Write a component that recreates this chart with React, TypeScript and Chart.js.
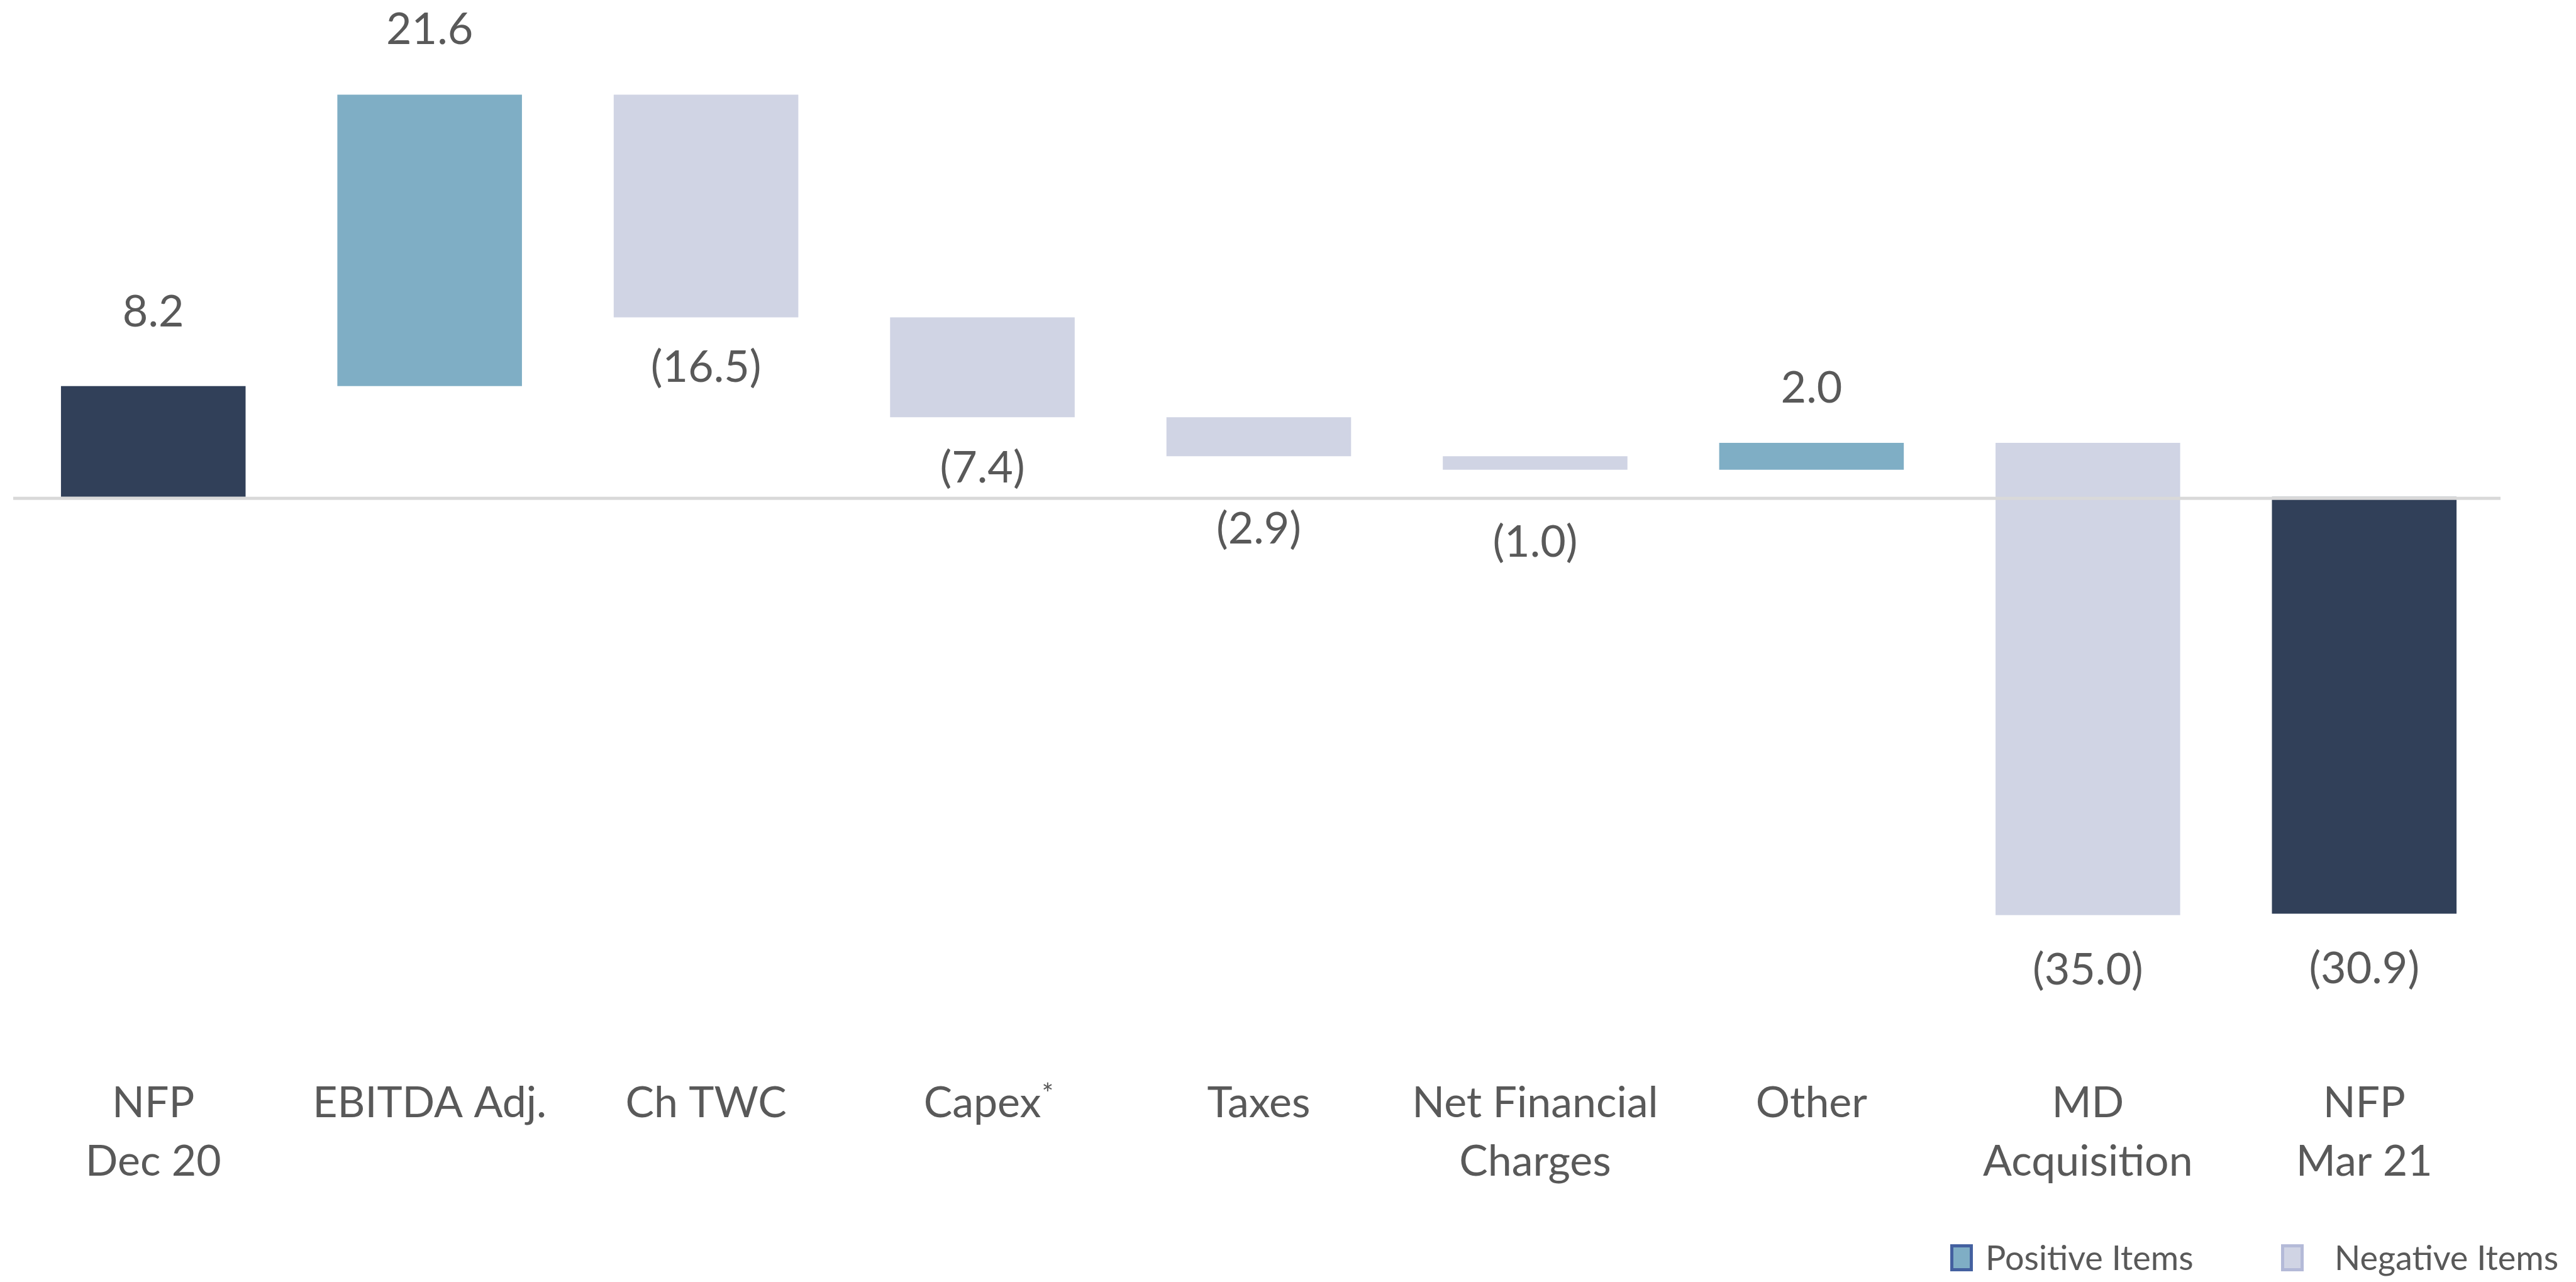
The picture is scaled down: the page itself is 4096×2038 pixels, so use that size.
import React, { useEffect, useRef } from "react";
import { Chart, registerables } from "chart.js";

Chart.register(...registerables);

// ---------- data ----------
const categories: string[][] = [
  ["NFP", "Dec 20"],
  ["EBITDA Adj."],
  ["Ch TWC"],
  ["Capex"],
  ["Taxes"],
  ["Net Financial", "Charges"],
  ["Other"],
  ["MD", "Acquisition"],
  ["NFP", "Mar 21"],
];
const footnoteMarks = ["", "", "", "*", "", "", "", "", ""];
const changes = [8.2, 21.6, -16.5, -7.4, -2.9, -1.0, 2.0, -35.0, -30.9];
const kinds = ["total", "pos", "neg", "neg", "neg", "neg", "pos", "neg", "total"];
const legendLabels = ["Positive Items", "Negative Items"];

// ---------- style ----------
const COLORS = {
  total: "#314059",
  pos: "#7FAEC5",
  neg: "#D0D4E4",
  posBorder: "#4461A0",
  negBorder: "#B4BAD8",
  text: "#595959",
  axis: "#D9D9D9",
};
// distance (px) from the bar end to the centre of its value label
const labelGap = [120, 106, 78, 79, 114, 113, 89, 85, 85];
const FONT = "Lato, 'Open Sans', sans-serif";

function fmt(v: number) {
  return v >= 0 ? v.toFixed(1) : "(" + Math.abs(v).toFixed(1) + ")";
}

function buildRanges() {
  let running = 0;
  return changes.map((c, i) => {
    if (kinds[i] === "total") {
      running = c;
      return [0, c] as [number, number];
    }
    const r: [number, number] = [running, running + c];
    running += c;
    return r;
  });
}

const decor = {
  id: "waterfallDecor",
  afterDatasetsDraw(chart: any) {
    const { ctx, chartArea, scales } = chart;
    const y0 = scales.y.getPixelForValue(0);
    ctx.save();
    ctx.fillStyle = COLORS.axis;
    ctx.fillRect(chartArea.left - 3, y0, chartArea.right - chartArea.left, 5);
    ctx.restore();
  },
  afterDraw(chart: any) {
    const { ctx, chartArea, scales } = chart;
    ctx.save();
    ctx.fillStyle = COLORS.text;
    ctx.textAlign = "center";
    ctx.textBaseline = "alphabetic";

    // value labels
    ctx.font = `70px ${FONT}`;
    changes.forEach((v, i) => {
      let el: any = null;
      chart.data.datasets.forEach((ds: any, di: number) => {
        if (ds.data[i] != null) el = chart.getDatasetMeta(di).data[i];
      });
      if (!el) return;
      const top = Math.min(el.y, el.base);
      const bottom = Math.max(el.y, el.base);
      const cy = v >= 0 ? top - labelGap[i] : bottom + labelGap[i];
      ctx.fillText(fmt(v), el.x, cy + 25);
    });

    // category labels
    ctx.font = `68px ${FONT}`;
    const base1 = chartArea.bottom + 171;
    const lineStep = 93;
    categories.forEach((lines, i) => {
      const x = scales.x.getPixelForValue(i);
      lines.forEach((ln, li) => {
        ctx.fillText(ln, x, base1 + li * lineStep);
      });
      if (footnoteMarks[i]) {
        const w = ctx.measureText(lines[0]).width;
        ctx.save();
        ctx.font = `44px ${FONT}`;
        ctx.textAlign = "left";
        ctx.fillText(footnoteMarks[i], x + w / 2 + 1, base1 - 22);
        ctx.restore();
      }
    });

    // legend
    ctx.font = `54px ${FONT}`;
    ctx.textAlign = "left";
    const items = [
      { x: 3101, tx: 3157, fill: COLORS.pos, stroke: COLORS.posBorder },
      { x: 3627, tx: 3712, fill: COLORS.neg, stroke: COLORS.negBorder },
    ];
    items.forEach((it, i) => {
      ctx.fillStyle = it.fill;
      ctx.fillRect(it.x, 1978, 36, 43);
      ctx.strokeStyle = it.stroke;
      ctx.lineWidth = 5;
      ctx.strokeRect(it.x + 2.5, 1978 + 2.5, 31, 38);
      ctx.fillStyle = COLORS.text;
      ctx.fillText(legendLabels[i], it.tx, 2019);
    });
    ctx.restore();
  },
};

export default function App() {
  const ref = useRef<HTMLCanvasElement>(null);
  useEffect(() => {
    document.body.style.margin = "0";
    const ranges = buildRanges();
    const mk = (kind: string, label: string) => ({
      label,
      data: ranges.map((r, i) => (kinds[i] === kind ? r : null)),
      backgroundColor: (COLORS as any)[kind],
      borderWidth: 0,
      grouped: false,
      barPercentage: 0.668,
      categoryPercentage: 1,
    });
    const chart = new Chart(ref.current as HTMLCanvasElement, {
      type: "bar",
      data: {
        labels: categories.map((c) => c.join(" ")),
        datasets: [
          mk("total", "NFP"),
          mk("pos", legendLabels[0]),
          mk("neg", legendLabels[1]),
        ] as any,
      },
      options: {
        animation: false,
        responsive: false,
        devicePixelRatio: 1,
        layout: { padding: { top: 6.8, bottom: 433.2, left: 24, right: 117 } },
        scales: {
          x: { display: false, offset: true },
          y: { display: false, min: -38, max: 36.5 },
        },
        plugins: { legend: { display: false }, tooltip: { enabled: false } },
      } as any,
      plugins: [decor],
    });
    return () => chart.destroy();
  }, []);
  return (
    <div style={{ position: "fixed", left: 0, top: 0, width: 4096, height: 2038, background: "#fff" }}>
      <canvas ref={ref} width={4096} height={2038} style={{ display: "block" }} />
    </div>
  );
}
